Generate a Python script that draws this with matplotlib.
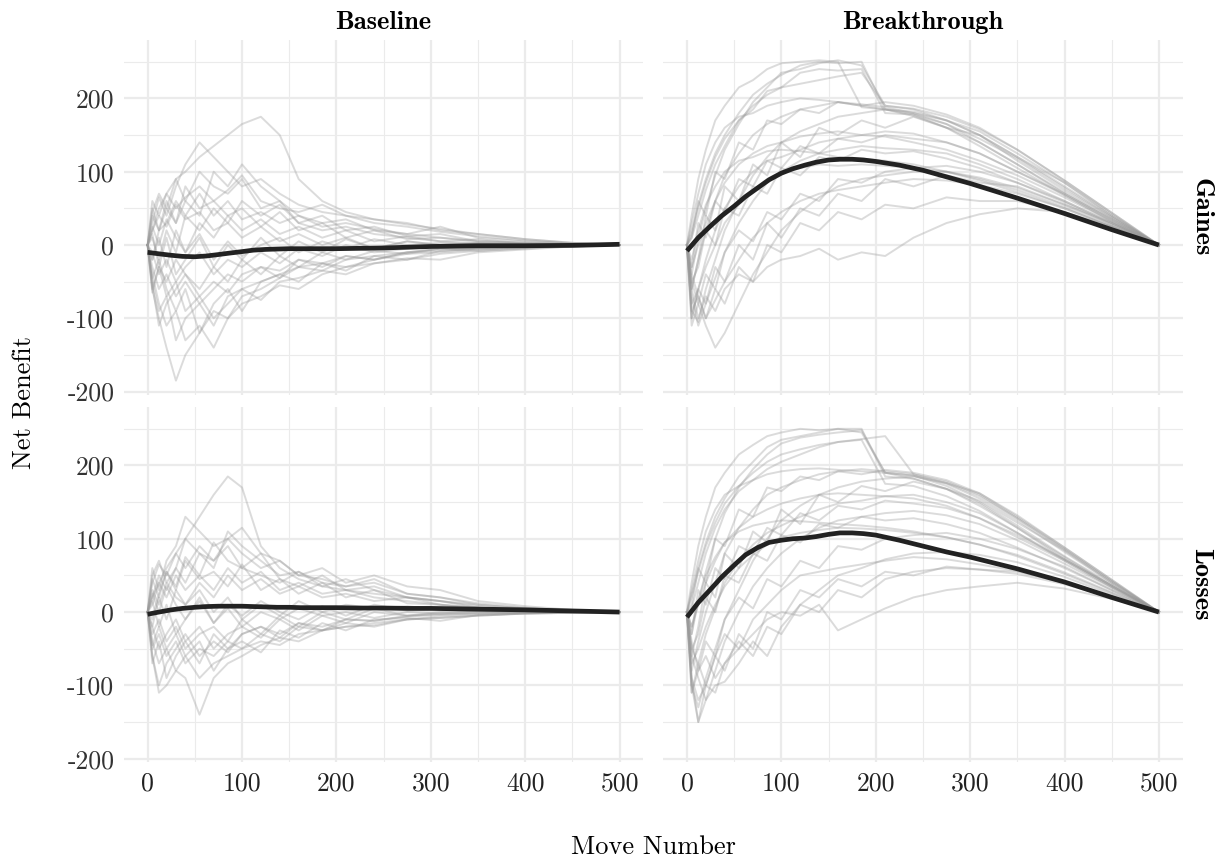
import matplotlib.pyplot as plt
from matplotlib.ticker import MultipleLocator

plt.rcParams['font.family'] = 'cmr10'
plt.rcParams['axes.unicode_minus'] = False
plt.rcParams['mathtext.fontset'] = 'cm'

# move numbers shared by every sampled game trajectory
moves = [0, 5, 12, 20, 30, 40, 55, 70, 85, 100, 120, 140, 160, 185, 210,
         240, 275, 310, 350, 400, 450, 500]

# Baseline / Gaines games
base_gain_games = [
    [0, 20, 50, 70, 90, 100, 120, 135, 150, 165, 175, 150, 90, 60, 45, 35, 30, 20, 15, 8, 3, 0],
    [0, 30, 65, 40, 80, 110, 140, 120, 100, 80, 90, 70, 55, 45, 40, 30, 25, 18, 12, 6, 2, 0],
    [0, -60, -100, -140, -185, -150, -120, -90, -100, -70, -60, -45, -30, -35, -20, -15, -10, -8, -5, -3, -1, 0],
    [0, -40, -80, -110, -90, -130, -110, -140, -100, -80, -70, -55, -60, -40, -30, -25, -20, -12, -8, -5, -2, 0],
    [0, 60, 40, 70, 50, 65, 80, 60, 75, 95, 60, 50, 45, 55, 40, 35, 28, 22, 15, 8, 3, 0],
    [0, -20, 10, -30, 20, -10, 30, 10, 40, 20, 35, 15, 25, 10, 20, 5, 12, 5, 8, 2, 1, 0],
    [0, -60, -30, -70, -50, -90, -70, -100, -80, -60, -75, -50, -45, -35, -40, -25, -18, -20, -10, -6, -2, 0],
    [0, 40, 20, 50, 30, 60, 40, 100, 80, 110, 80, 60, 40, 30, 35, 20, 15, 25, 10, 5, 2, 0],
    [0, -30, -60, -40, -70, -50, -80, -60, -40, -50, -30, -35, -20, -25, -15, -20, -10, -5, -8, -4, -1, 0],
    [0, 10, -20, 20, -10, 40, 20, 50, 30, 60, 40, 55, 30, 20, 25, 15, 10, 5, 2, 1, 0, 0],
    [0, -50, -90, -70, -130, -100, -80, -110, -70, -60, -50, -40, -30, -25, -30, -20, -12, -10, -6, -3, -1, 0],
    [0, 20, 40, 25, 55, 35, 45, 20, 30, 10, 25, 5, 15, 0, 10, -5, 5, 0, 3, 1, 0, 0],
    [0, -10, -40, -20, -50, -30, -10, -40, -20, -30, -10, -25, -5, -15, 0, -10, -5, -2, -3, -1, 0, 0],
    [0, -65, -30, -50, -20, -40, -60, -30, -50, -20, -40, -15, -30, -10, -20, -8, -12, -5, -4, -2, -1, 0],
    [0, 50, 20, 30, 60, 40, 70, 40, 60, 35, 45, 30, 40, 25, 30, 22, 15, 10, 6, 3, 1, 0],
    [0, 45, 70, 50, 90, 60, 100, 80, 70, 90, 50, 60, 30, 40, 20, 25, 12, 15, 5, 3, 1, 0],
    [0, -45, -20, -60, -90, -60, -120, -80, -60, -90, -50, -40, -50, -25, -35, -15, -20, -8, -5, -3, -1, 0],
    [0, 15, -30, 10, -40, -20, 10, -30, 0, -20, 10, -15, 5, -10, 8, -5, 5, 0, 2, 0, 0, 0],
    [0, -20, 20, 60, 30, 80, 50, 60, 40, 50, 25, 45, 20, 30, 10, 20, 8, 10, 4, 2, 0, 0],
    [0, -55, -110, -80, -60, -40, -70, -50, -65, -40, -30, -45, -20, -30, -15, -20, -10, -5, -4, -2, 0, 0],
    [0, 25, 0, 35, 10, -10, 15, -20, 5, -15, 0, 10, -10, 5, -5, 8, 0, 3, 1, 0, 0, 0],
]

# Baseline / Losses games
base_loss_games = [
    [0, 20, 40, 60, 80, 100, 130, 160, 185, 170, 90, 60, 45, 35, 30, 25, 20, 15, 10, 5, 2, 0],
    [0, 60, 30, 70, 90, 130, 110, 90, 100, 115, 80, 70, 50, 45, 35, 40, 25, 20, 12, 6, 2, 0],
    [0, -60, -110, -100, -80, -90, -140, -90, -70, -60, -45, -35, -40, -25, -20, -15, -10, -8, -5, -2, -1, 0],
    [0, -40, -70, -50, -80, -60, -90, -70, -60, -50, -40, -45, -30, -25, -20, -18, -10, -6, -4, -2, -1, 0],
    [0, 40, 65, 50, 80, 60, 90, 70, 100, 80, 60, 70, 50, 60, 40, 50, 35, 30, 15, 8, 3, 0],
    [0, -20, 20, -10, 30, 10, 40, 20, 50, 30, 45, 25, 35, 20, 25, 15, 20, 10, 6, 3, 1, 0],
    [0, -50, -30, -60, -40, -70, -50, -60, -40, -50, -30, -40, -20, -25, -15, -20, -10, -8, -5, -2, -1, 0],
    [0, 20, 50, 30, 60, 40, 80, 60, 110, 90, 70, 50, 55, 40, 35, 45, 25, 20, 10, 5, 2, 0],
    [0, -30, -10, -40, -20, -50, -30, -20, -40, -10, -30, -5, -20, 0, -10, 5, -5, 0, 2, 1, 0, 0],
    [0, 10, 40, 20, 50, 30, 50, 30, 60, 40, 55, 30, 40, 25, 30, 20, 15, 10, 6, 3, 1, 0],
    [0, -70, -40, -90, -60, -40, -70, -30, -50, -30, -20, -30, -15, -20, -10, -12, -6, -4, -2, -1, 0, 0],
    [0, 30, 10, 40, 20, 10, 30, 0, 20, -10, 10, -5, 15, 0, 10, 5, 8, 3, 2, 1, 0, 0],
    [0, -20, -50, -30, -10, -40, -20, -50, -30, -20, -35, -10, -25, -5, -15, 0, -5, -2, -1, 0, 0, 0],
    [0, 50, 70, 40, 60, 100, 80, 70, 90, 60, 50, 40, 55, 35, 45, 30, 20, 15, 8, 4, 1, 0],
    [0, 45, 20, 55, 35, 75, 50, 95, 70, 60, 80, 45, 35, 50, 30, 35, 20, 15, 6, 3, 1, 0],
    [0, -45, -20, -50, -30, -60, -40, -80, -50, -40, -55, -25, -35, -15, -25, -10, -8, -12, -4, -2, 0, 0],
    [0, 15, -20, 10, -30, -10, 15, -15, 5, -20, 0, -10, 5, -5, 0, -8, 0, -2, 1, 0, 0, 0],
    [0, -10, 25, 55, 30, 70, 45, 55, 35, 65, 30, 45, 25, 40, 20, 30, 12, 10, 4, 2, 0, 0],
    [0, -60, -100, -70, -50, -30, -60, -40, -55, -30, -20, -35, -15, -25, -10, -12, -5, -3, -2, -1, 0, 0],
    [0, 25, 0, 35, 10, -10, 20, -15, 10, -5, 15, 0, -10, 8, -5, 10, 2, 4, 1, 0, 0, 0],
]

# Breakthrough / Gaines games
brk_gain_games = [
    [0, 20, 55, 90, 125, 150, 180, 205, 220, 232, 245, 250, 248, 250, 185, 180, 165, 140, 110, 70, 35, 0],
    [0, -40, 10, 50, 95, 130, 165, 195, 215, 235, 240, 248, 252, 245, 190, 185, 170, 150, 115, 75, 38, 0],
    [0, 10, 40, 75, 110, 135, 170, 185, 210, 215, 235, 240, 238, 240, 180, 178, 160, 135, 105, 68, 32, 0],
    [0, -60, -20, 20, 60, 95, 125, 150, 165, 175, 185, 190, 195, 192, 188, 180, 170, 150, 120, 80, 40, 0],
    [0, -90, -105, -60, -20, 20, 60, 95, 120, 140, 155, 165, 175, 180, 185, 182, 170, 155, 125, 85, 42, 0],
    [0, -30, 0, 30, 60, 85, 110, 125, 135, 140, 148, 152, 155, 150, 148, 140, 130, 115, 95, 65, 32, 0],
    [0, -70, -110, -80, -45, -10, 30, 60, 85, 100, 115, 125, 130, 135, 132, 130, 125, 110, 90, 60, 30, 0],
    [0, -50, -80, -110, -140, -120, -80, -40, -10, 20, 45, 65, 80, 90, 95, 100, 100, 92, 78, 55, 28, 0],
    [0, -40, -70, -100, -75, -50, -20, 10, 30, 45, 60, 70, 75, 80, 85, 90, 88, 82, 70, 50, 25, 0],
    [0, -60, -100, -70, -90, -60, -40, -50, -30, -20, -15, -5, -20, -10, -15, 10, 30, 42, 50, 45, 25, 0],
    [0, 30, 70, 110, 140, 160, 175, 180, 190, 195, 200, 198, 195, 190, 185, 178, 165, 145, 118, 78, 38, 0],
    [0, -20, 20, 55, 80, 100, 115, 120, 128, 130, 128, 125, 120, 118, 115, 110, 100, 88, 72, 50, 25, 0],
    [0, -80, -60, -30, 0, 30, 55, 75, 90, 100, 105, 110, 108, 110, 108, 105, 100, 90, 75, 52, 26, 0],
    [0, -100, -60, -20, 20, 50, 80, 100, 115, 120, 130, 140, 145, 150, 155, 152, 140, 125, 100, 70, 35, 0],
    [0, 15, 50, 85, 120, 145, 170, 190, 205, 215, 220, 225, 230, 235, 190, 186, 175, 158, 130, 88, 44, 0],
    [0, -100, -60, -80, -30, -50, 0, -20, 30, 10, 50, 40, 70, 60, 90, 80, 95, 85, 80, 55, 30, 0],
    [0, -60, -20, 40, 20, 80, 60, 110, 95, 140, 120, 160, 150, 170, 160, 175, 160, 150, 120, 85, 40, 0],
    [0, 40, 90, 130, 170, 190, 215, 225, 240, 248, 250, 252, 250, 188, 185, 176, 160, 140, 110, 72, 36, 0],
    [0, -90, -70, -100, -60, -80, -30, -50, 0, -10, 30, 20, 45, 35, 55, 50, 65, 60, 60, 45, 22, 0],
    [0, -30, 30, 10, 60, 45, 90, 80, 115, 105, 135, 125, 145, 140, 150, 145, 140, 125, 100, 68, 33, 0],
    [0, -110, -80, -40, -60, -10, 20, 5, 45, 35, 70, 60, 90, 85, 100, 105, 108, 100, 85, 60, 30, 0],
    [0, 10, 60, 40, 100, 90, 140, 130, 170, 165, 185, 180, 195, 190, 195, 190, 178, 160, 130, 88, 44, 0],
    [0, -50, -30, 20, 0, 50, 40, 80, 70, 105, 95, 120, 115, 130, 125, 128, 118, 105, 85, 58, 28, 0],
]

# Breakthrough / Losses games
brk_loss_games = [
    [0, 25, 60, 95, 130, 155, 185, 205, 225, 235, 240, 245, 250, 250, 185, 182, 168, 145, 115, 72, 36, 0],
    [0, -30, 15, 55, 100, 135, 170, 195, 215, 230, 238, 242, 245, 248, 190, 186, 172, 150, 118, 76, 38, 0],
    [0, 5, 40, 80, 115, 140, 165, 180, 195, 205, 215, 225, 232, 235, 175, 172, 158, 138, 108, 70, 34, 0],
    [0, -80, -40, 0, 40, 80, 115, 140, 160, 170, 180, 188, 192, 195, 192, 188, 178, 160, 128, 85, 42, 0],
    [0, -100, -130, -90, -50, -10, 30, 70, 100, 125, 145, 160, 170, 178, 182, 185, 176, 162, 130, 88, 44, 0],
    [0, -20, 10, 40, 70, 95, 115, 130, 140, 148, 155, 160, 162, 160, 158, 155, 145, 128, 105, 72, 36, 0],
    [0, -90, -150, -120, -80, -40, 0, 35, 60, 80, 100, 115, 125, 130, 135, 138, 132, 120, 98, 66, 33, 0],
    [0, -60, -90, -120, -100, -95, -70, -40, -60, -20, 10, 30, 50, 60, 72, 80, 82, 78, 68, 48, 24, 0],
    [0, -40, -80, -60, -90, -70, -50, -30, -10, 0, -5, 10, -25, -10, 5, 20, 30, 35, 40, 32, 18, 0],
    [0, 30, 70, 110, 140, 160, 172, 180, 188, 192, 195, 196, 194, 192, 190, 186, 175, 155, 125, 82, 40, 0],
    [0, -20, 15, 50, 75, 95, 110, 118, 122, 125, 124, 122, 120, 118, 115, 110, 102, 92, 76, 52, 26, 0],
    [0, -70, -50, -20, 10, 35, 60, 78, 92, 102, 108, 112, 115, 114, 112, 108, 102, 92, 78, 54, 27, 0],
    [0, -110, -70, -30, 5, 40, 70, 92, 108, 118, 130, 140, 148, 152, 158, 160, 150, 135, 108, 72, 36, 0],
    [0, -50, -70, -100, -60, -30, -50, -10, 10, 30, 50, 55, 60, 65, 70, 75, 72, 65, 56, 40, 20, 0],
    [0, 20, 55, 90, 122, 148, 172, 190, 205, 215, 222, 228, 232, 236, 240, 188, 176, 158, 128, 86, 42, 0],
    [0, -100, -150, -100, -110, -70, -40, -60, -20, -30, 10, 0, 30, 20, 45, 55, 60, 58, 52, 38, 20, 0],
    [0, -60, -20, 40, 20, 80, 60, 110, 95, 140, 120, 160, 150, 172, 165, 178, 168, 152, 122, 84, 40, 0],
    [0, 40, 90, 130, 170, 190, 215, 228, 240, 245, 250, 248, 250, 245, 190, 182, 168, 148, 115, 75, 36, 0],
    [0, -90, -120, -100, -60, -80, -30, -50, 0, -10, 30, 20, 45, 35, 55, 50, 62, 58, 55, 40, 20, 0],
    [0, -30, 30, 10, 60, 45, 90, 80, 115, 105, 135, 125, 145, 140, 152, 148, 142, 128, 102, 70, 34, 0],
    [0, -110, -80, -40, -60, -10, 20, 5, 45, 35, 70, 60, 90, 85, 100, 105, 108, 100, 86, 62, 30, 0],
    [0, 10, 60, 40, 100, 90, 140, 130, 170, 165, 185, 180, 192, 188, 194, 190, 180, 162, 132, 88, 44, 0],
    [0, -50, -30, 20, 0, 50, 40, 80, 70, 105, 95, 120, 115, 130, 125, 128, 120, 108, 88, 60, 30, 0],
]

# smoothed trend per panel
smooth_moves = [0, 12, 25, 37, 50, 62, 75, 87, 100, 112, 125, 137, 150, 162, 175,
                187, 200, 225, 250, 275, 300, 350, 400, 450, 500]
base_gain_smooth = [-10, -12, -14, -15.5, -16, -15, -13, -11, -9, -7, -6, -5.5, -5, -5, -5,
                    -5, -5, -4.5, -4, -3, -2, -1, -1, -0.5, 1]
base_loss_smooth = [-3, 0, 3, 5, 6.5, 7.5, 8, 8, 8, 7.5, 7, 6.5, 6.5, 6, 6,
                    6, 6, 5.5, 5.5, 5, 5, 4, 3, 1.5, 0]
brk_gain_smooth = [-8, 10, 26, 40, 53, 66, 78, 89, 98, 104, 109, 113, 116, 117, 117,
                   116, 114, 109, 102, 93, 84, 64, 43, 21, 0]
brk_loss_smooth = [-7, 13, 31, 48, 64, 78, 88, 95, 98, 100, 101, 103, 106, 108, 108,
                   107, 105, 98, 90, 82, 75, 59, 41, 20, 0]

conditions = ['Baseline', 'Breakthrough']
outcomes = ['Gaines', 'Losses']

panels = {
    ('Gaines', 'Baseline'): (base_gain_games, base_gain_smooth),
    ('Losses', 'Baseline'): (base_loss_games, base_loss_smooth),
    ('Gaines', 'Breakthrough'): (brk_gain_games, brk_gain_smooth),
    ('Losses', 'Breakthrough'): (brk_loss_games, brk_loss_smooth),
}

fig = plt.figure(figsize=(12.23, 8.61), dpi=100)
lefts = [0.1014, 0.5424]
bottoms = [0.5409, 0.1146]
w, h = 0.4245, 0.4129

for i, outcome in enumerate(outcomes):
    for j, cond in enumerate(conditions):
        ax = fig.add_axes([lefts[j], bottoms[i], w, h])
        games, smooth = panels[(outcome, cond)]
        for g in games:
            ax.plot(moves, g, color='#9a9a9a', alpha=0.35, lw=1.4)
        ax.plot(smooth_moves, smooth, color='#222222', lw=3.4, solid_capstyle='butt')

        ax.set_xlim(-25, 525)
        ax.set_ylim(-205, 280)
        ax.xaxis.set_major_locator(MultipleLocator(100))
        ax.xaxis.set_minor_locator(MultipleLocator(50))
        ax.yaxis.set_major_locator(MultipleLocator(100))
        ax.yaxis.set_minor_locator(MultipleLocator(50))
        ax.grid(which='major', color='#ebebeb', lw=1.6)
        ax.grid(which='minor', color='#ebebeb', lw=0.8)
        ax.set_axisbelow(True)
        for s in ax.spines.values():
            s.set_visible(False)
        ax.tick_params(which='both', length=0, labelsize=18.5, pad=7, colors='#333333')
        ax.tick_params(axis='x', labelcolor='#222222')
        if j == 1:
            ax.set_yticklabels([])
        if i == 0:
            ax.set_xticklabels([])
            ax.set_title(cond, fontfamily='cmb10', fontsize=19, pad=8)
        if j == 1:
            ax.text(1.035, 0.5, outcome, transform=ax.transAxes, rotation=-90,
                    ha='center', va='center', fontfamily='cmb10', fontsize=19)

fig.text(0.534, 0.016, 'Move Number', ha='center', va='center', fontsize=19)
fig.text(0.02, 0.533, 'Net Benefit', ha='center', va='center', rotation=90, fontsize=19)

fig.savefig('out.png', dpi=100)
